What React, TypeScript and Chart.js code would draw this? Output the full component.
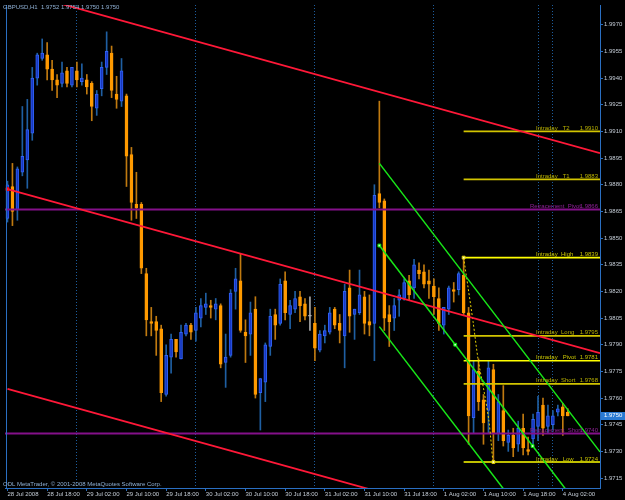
import React, { useEffect, useRef } from 'react';
import { Chart, registerables } from 'chart.js';

Chart.register(...registerables);

// ---------- DATA ----------
// hourly bars, GBPUSD H1, from 28 Jul 2008 10:00 to 4 Aug 2008 03:00
const opens = [
  1.9861, 1.9879, 1.9866, 1.9887, 1.9894, 1.9909, 1.9940, 1.9951, 1.9953, 1.9945,
  1.9939, 1.9937, 1.9944, 1.9936, 1.9944, 1.9938, 1.9939, 1.9937, 1.9923, 1.9934,
  1.9946, 1.9954, 1.9931, 1.9927, 1.9930, 1.9897, 1.9869, 1.9869, 1.9830, 1.9803,
  1.9803, 1.9799, 1.9762, 1.9783, 1.9793, 1.9782, 1.9796, 1.9801, 1.9798, 1.9805,
  1.9811, 1.9812, 1.9810, 1.9812, 1.9780, 1.9784, 1.9820, 1.9826, 1.9797, 1.9796,
  1.9810, 1.9763, 1.9769, 1.9789, 1.9807, 1.9802, 1.9826, 1.9807, 1.9810, 1.9817,
  1.9813, 1.9806, 1.9802, 1.9787, 1.9795, 1.9797, 1.9810, 1.9802, 1.9795, 1.9822,
  1.9807, 1.9808, 1.9817, 1.9803, 1.9802, 1.9875, 1.9871, 1.9807, 1.9805, 1.9815,
  1.9816, 1.9826, 1.9822, 1.9832, 1.9831, 1.9826, 1.9823, 1.9816, 1.9801, 1.9810,
  1.9821, 1.9821, 1.9829, 1.9808, 1.9749, 1.9775, 1.9759, 1.9753, 1.9776, 1.9740,
  1.9753, 1.9735, 1.9739, 1.9734, 1.9743, 1.9731, 1.9737, 1.9744, 1.9756, 1.9744,
  1.9745, 1.9752, 1.9755, 1.9752,
];
const highs = [
  1.9882, 1.9892, 1.9890, 1.9924, 1.9928, 1.9946, 1.9954, 1.9962, 1.9960, 1.9950,
  1.9942, 1.9949, 1.9946, 1.9946, 1.9949, 1.9948, 1.9942, 1.9938, 1.9933, 1.9949,
  1.9966, 1.9958, 1.9941, 1.9951, 1.9931, 1.9901, 1.9887, 1.9870, 1.9833, 1.9811,
  1.9806, 1.9801, 1.9790, 1.9796, 1.9793, 1.9801, 1.9802, 1.9802, 1.9811, 1.9816,
  1.9819, 1.9815, 1.9816, 1.9813, 1.9796, 1.9821, 1.9833, 1.9841, 1.9804, 1.9814,
  1.9817, 1.9771, 1.9791, 1.9810, 1.9810, 1.9827, 1.9831, 1.9815, 1.9820, 1.9820,
  1.9816, 1.9817, 1.9811, 1.9798, 1.9801, 1.9811, 1.9811, 1.9807, 1.9824, 1.9832,
  1.9810, 1.9832, 1.9820, 1.9818, 1.9880, 1.9927, 1.9872, 1.9812, 1.9816, 1.9821,
  1.9827, 1.9829, 1.9838, 1.9836, 1.9835, 1.9832, 1.9827, 1.9822, 1.9811, 1.9823,
  1.9825, 1.9831, 1.9839, 1.9811, 1.9781, 1.9782, 1.9762, 1.9781, 1.9779, 1.9762,
  1.9767, 1.9742, 1.9743, 1.9747, 1.9751, 1.9738, 1.9751, 1.9761, 1.9760, 1.9756,
  1.9753, 1.9756, 1.9757, 1.9754,
];
const lows = [
  1.9859, 1.9857, 1.9860, 1.9885, 1.9878, 1.9905, 1.9936, 1.9950, 1.9939, 1.9933,
  1.9929, 1.9935, 1.9935, 1.9935, 1.9935, 1.9936, 1.9931, 1.9916, 1.9919, 1.9930,
  1.9942, 1.9929, 1.9923, 1.9924, 1.9879, 1.9860, 1.9861, 1.9830, 1.9795, 1.9795,
  1.9784, 1.9758, 1.9761, 1.9774, 1.9783, 1.9782, 1.9795, 1.9793, 1.9792, 1.9800,
  1.9807, 1.9805, 1.9804, 1.9777, 1.9766, 1.9783, 1.9810, 1.9797, 1.9780, 1.9784,
  1.9760, 1.9742, 1.9758, 1.9784, 1.9793, 1.9801, 1.9804, 1.9799, 1.9808, 1.9803,
  1.9804, 1.9798, 1.9781, 1.9786, 1.9791, 1.9796, 1.9799, 1.9791, 1.9777, 1.9797,
  1.9793, 1.9807, 1.9796, 1.9795, 1.9781, 1.9867, 1.9798, 1.9789, 1.9798, 1.9806,
  1.9815, 1.9815, 1.9816, 1.9827, 1.9822, 1.9816, 1.9807, 1.9798, 1.9796, 1.9807,
  1.9814, 1.9818, 1.9807, 1.9734, 1.9740, 1.9753, 1.9734, 1.9740, 1.9724, 1.9736,
  1.9733, 1.9730, 1.9727, 1.9730, 1.9728, 1.9728, 1.9733, 1.9736, 1.9739, 1.9740,
  1.9742, 1.9750, 1.9739, 1.9750,
];
const closes = [
  1.9880, 1.9865, 1.9889, 1.9896, 1.9911, 1.9940, 1.9953, 1.9954, 1.9945, 1.9939,
  1.9936, 1.9943, 1.9937, 1.9946, 1.9939, 1.9940, 1.9935, 1.9924, 1.9931, 1.9946,
  1.9955, 1.9933, 1.9928, 1.9944, 1.9896, 1.9870, 1.9867, 1.9833, 1.9804, 1.9802,
  1.9798, 1.9763, 1.9784, 1.9793, 1.9786, 1.9797, 1.9801, 1.9797, 1.9808, 1.9812,
  1.9813, 1.9811, 1.9813, 1.9779, 1.9783, 1.9819, 1.9827, 1.9798, 1.9795, 1.9808,
  1.9762, 1.9771, 1.9790, 1.9806, 1.9801, 1.9824, 1.9808, 1.9812, 1.9816, 1.9812,
  1.9806, 1.9806, 1.9788, 1.9796, 1.9798, 1.9808, 1.9801, 1.9798, 1.9820, 1.9806,
  1.9810, 1.9818, 1.9802, 1.9801, 1.9874, 1.9870, 1.9805, 1.9803, 1.9812, 1.9818,
  1.9825, 1.9818, 1.9835, 1.9830, 1.9824, 1.9824, 1.9817, 1.9802, 1.9811, 1.9822,
  1.9820, 1.9830, 1.9808, 1.9750, 1.9776, 1.9758, 1.9746, 1.9777, 1.9740, 1.9758,
  1.9736, 1.9739, 1.9732, 1.9743, 1.9732, 1.9730, 1.9748, 1.9752, 1.9743, 1.9750,
  1.9750, 1.9754, 1.9750, 1.9750,
];

// x-axis tick labels, one every 8 bars
const xTickLabels = [
  '28 Jul 2008', '28 Jul 18:00', '29 Jul 02:00', '29 Jul 10:00', '29 Jul 18:00',
  '30 Jul 02:00', '30 Jul 10:00', '30 Jul 18:00', '31 Jul 02:00', '31 Jul 10:00',
  '31 Jul 18:00', '1 Aug 02:00', '1 Aug 10:00', '1 Aug 18:00', '4 Aug 02:00',
];
const xTickBars = [0, 8, 16, 24, 32, 40, 48, 56, 64, 72, 80, 88, 96, 104, 112];
// period separators (bar index)
const separatorBars = [14, 38, 62, 86, 107, 110];
// price scale ticks
const yTicks = [
  1.9715, 1.9730, 1.9745, 1.9760, 1.9775, 1.9790, 1.9805, 1.9820, 1.9835,
  1.9850, 1.9865, 1.9880, 1.9895, 1.9910, 1.9925, 1.9940, 1.9955, 1.9970,
];

// horizontal levels
const levelNames = [
  'Intraday   T2', 'Intraday   T1', 'Retracement  Pivot', 'Intraday  High',
  'Intraday  Long', 'Intraday   Pivot', 'Intraday  Short', 'Retracement  Short', 'Intraday   Low',
];
const levelValues = [1.9910, 1.9883, 1.9866, 1.9839, 1.9795, 1.9781, 1.9768, 1.9740, 1.9724];
const levelStartBars = [92, 92, -0.5, 92, 92, 92, 92, -0.5, 92];
const levelKinds = ['soft', 'soft', 'retr', 'bright', 'soft', 'bright', 'soft', 'retr', 'bright'];

// trend lines: [startBar, startPrice, endBar, endPrice]
const redLineStartBars = [-0.5, 0, 0];
const redLineStartPrices = [1.99905, 1.98775, 1.97651];
const redLineEndBars = [119.5, 119.5, 119.5];
const redLineEndPrices = [1.98978, 1.97852, 1.96728];

const greenLineStartBars = [75, 75, 75];
const greenLineStartPrices = [1.98920, 1.98458, 1.98002];
const greenLineEndBars = [119.5, 119.5, 119.5];
const greenLineEndPrices = [1.97297, 1.96835, 1.96379];

// dotted swing line from the intraday high to the intraday low
const swingBars = [92, 92.9, 93.9, 94.9, 96.1, 97.1, 97.9];
const swingPrices = [1.9839, 1.9822, 1.9803, 1.9782, 1.9764, 1.9747, 1.9724];

// small square markers
const markerBars = [0, 75, 90.3, 105.9, 92, 98];
const markerPrices = [1.98775, 1.98458, 1.97900, 1.97330, 1.9839, 1.9724];
const markerKinds = ['red', 'green', 'green', 'green', 'yellow', 'yellow'];

const titleText = 'GBPUSD,H1  1.9752 1.9754 1.9750 1.9750';
const copyrightText = 'ODL MetaTrader, \u00A9 2001-2008 MetaQuotes Software Corp.';

// ---------- STYLE ----------
const FONT = '"Liberation Sans", Arial, sans-serif';
const AXIS_BLUE = '#2a6fc2';
const TEXT_COL = '#c4ccd6';
const SEP_COL = '#1d5c9c';

const levelLineColor: Record<string, string> = { soft: '#d2c400', bright: '#ffff00', retr: '#84108a' };
const levelTextColor: Record<string, string> = { soft: '#b8b000', bright: '#c8c400', retr: '#8e2096' };
const markerFill: Record<string, string> = { red: '#ff2040', green: '#c8ffc8', yellow: '#ffffc0' };
const markerStroke: Record<string, string> = { red: '#ff0000', green: '#00e000', yellow: '#e0d000' };

export default function App() {
  const ref = useRef<HTMLCanvasElement>(null);

  useEffect(() => {
    document.body.style.margin = '0';
    document.body.style.background = '#000';
    const canvas = ref.current;
    if (!canvas) return;

    const idx = opens.map((_, i) => i);
    const kind = idx.map((i) => (closes[i] > opens[i] ? 'up' : closes[i] < opens[i] ? 'down' : 'flat'));
    const bodyFill = kind.map((k) => (k === 'up' ? '#1838c0' : k === 'down' ? '#ff9a00' : '#b0b0b0'));
    const bodyBorder = kind.map((k) => (k === 'up' ? '#3062f4' : k === 'down' ? '#ff9a00' : '#b0b0b0'));
    const wickCol = kind.map((k) => (k === 'up' ? '#1f5fa2' : k === 'down' ? '#c07a10' : '#a8a8a8'));

    const datasets: any[] = [];
    const base = { xAxisID: 'x', yAxisID: 'y' };

    // candle wicks and bodies
    datasets.push({
      ...base,
      type: 'bar',
      label: 'wicks',
      data: idx.map((i) => ({ x: i, y: [lows[i], highs[i]] })),
      backgroundColor: wickCol,
      borderWidth: 0,
      barThickness: 1,
      grouped: false,
      order: 30,
    });
    datasets.push({
      ...base,
      type: 'bar',
      label: 'bodies',
      data: idx.map((i) => ({ x: i, y: [opens[i], closes[i]] })),
      backgroundColor: bodyFill,
      borderColor: bodyBorder,
      borderWidth: 1,
      borderSkipped: false,
      barThickness: 3,
      minBarLength: 1,
      grouped: false,
      order: 20,
    });

    // horizontal levels
    levelValues.forEach((v, k) => {
      datasets.push({
        ...base,
        type: 'line',
        label: levelNames[k],
        data: [
          { x: levelStartBars[k], y: v },
          { x: 119.5, y: v },
        ],
        borderColor: levelLineColor[levelKinds[k]],
        borderWidth: levelKinds[k] === 'retr' ? 2 : 1.6,
        pointRadius: 0,
        tension: 0,
        order: 5,
      });
    });

    // red channel
    redLineStartBars.forEach((b, k) => {
      datasets.push({
        ...base,
        type: 'line',
        label: 'red' + k,
        data: [
          { x: b, y: redLineStartPrices[k] },
          { x: redLineEndBars[k], y: redLineEndPrices[k] },
        ],
        borderColor: '#ff1838',
        borderWidth: 1.8,
        pointRadius: 0,
        tension: 0,
        order: 3,
      });
    });

    // green channel
    greenLineStartBars.forEach((b, k) => {
      datasets.push({
        ...base,
        type: 'line',
        label: 'green' + k,
        data: [
          { x: b, y: greenLineStartPrices[k] },
          { x: greenLineEndBars[k], y: greenLineEndPrices[k] },
        ],
        borderColor: '#18e818',
        borderWidth: 1.5,
        pointRadius: 0,
        tension: 0,
        order: 2,
      });
    });

    // dotted swing line
    datasets.push({
      ...base,
      type: 'line',
      label: 'swing',
      data: swingBars.map((b, k) => ({ x: b, y: swingPrices[k] })),
      borderColor: '#e8d400',
      borderWidth: 1,
      borderDash: [2, 2],
      pointRadius: 0,
      tension: 0.3,
      order: 4,
    });

    // markers
    datasets.push({
      ...base,
      type: 'line',
      label: 'markers',
      data: markerBars.map((b, k) => ({ x: b, y: markerPrices[k] })),
      showLine: false,
      pointStyle: 'rect',
      pointRadius: 2,
      pointBackgroundColor: markerKinds.map((m) => markerFill[m]),
      pointBorderColor: markerKinds.map((m) => markerStroke[m]),
      pointBorderWidth: 1,
      order: 1,
    });

    const overlay = {
      id: 'mt4overlay',
      beforeDraw(chart: any) {
        const { ctx, width, height } = chart;
        ctx.save();
        ctx.fillStyle = '#000000';
        ctx.fillRect(0, 0, width, height);
        ctx.restore();
      },
      afterDraw(chart: any) {
        const { ctx, chartArea } = chart;
        const ys = chart.scales.y;
        ctx.save();
        // left frame line
        ctx.fillStyle = AXIS_BLUE;
        ctx.fillRect(chartArea.left + 1, chartArea.top, 1, chartArea.bottom - chartArea.top);

        ctx.font = `6px ${FONT}`;
        ctx.textBaseline = 'alphabetic';
        levelValues.forEach((v, k) => {
          const py = ys.getPixelForValue(v);
          ctx.fillStyle = levelTextColor[levelKinds[k]];
          ctx.textAlign = 'left';
          ctx.fillText(levelNames[k], levelKinds[k] === 'retr' ? 530 : 536, py - 1.5);
          ctx.textAlign = 'right';
          ctx.fillText(v.toFixed(4), 598, py - 1.5);
        });

        // current price box
        const last = closes[closes.length - 1];
        const cy = ys.getPixelForValue(last);
        ctx.fillStyle = '#2a7ad2';
        ctx.fillRect(chartArea.right + 1, Math.round(cy) - 4, 24, 8);
        ctx.fillStyle = '#ffffff';
        ctx.textAlign = 'left';
        ctx.textBaseline = 'middle';
        ctx.fillText(last.toFixed(4), chartArea.right + 4, cy);

        // title and copyright
        ctx.fillStyle = '#8fb0d4';
        ctx.fillText(titleText, 3, 7);
        ctx.fillText(copyrightText, 3, chartArea.bottom - 4);
        ctx.restore();
      },
    };

    const chart = new Chart(canvas, {
      type: 'bar',
      data: { datasets },
      options: {
        animation: false,
        responsive: false,
        devicePixelRatio: 1,
        events: [],
        layout: { padding: 0 },
        plugins: { legend: { display: false }, tooltip: { enabled: false }, title: { display: false } },
        font: { family: FONT, size: 6 },
        scales: {
          x: {
            type: 'linear',
            axis: 'x',
            position: 'bottom',
            min: -0.5,
            max: 119.5,
            offset: false,
            afterBuildTicks: (s: any) => {
              s.ticks = xTickBars.map((b) => ({ value: b }));
            },
            afterFit: (s: any) => {
              s.height = 12;
            },
            ticks: {
              autoSkip: false,
              maxRotation: 0,
              minRotation: 0,
              align: 'start',
              padding: 0,
              color: TEXT_COL,
              font: { family: FONT, size: 6 },
              callback: (_v: any, k: number) => xTickLabels[k],
            },
            grid: { drawOnChartArea: false, drawTicks: true, tickLength: 3, color: AXIS_BLUE, offset: false },
            border: { display: true, color: AXIS_BLUE, width: 1 },
          },
          xsep: {
            type: 'linear',
            axis: 'x',
            position: 'top',
            min: -0.5,
            max: 119.5,
            offset: false,
            afterBuildTicks: (s: any) => {
              s.ticks = separatorBars.map((b) => ({ value: b }));
            },
            afterFit: (s: any) => {
              s.height = 0;
            },
            ticks: { display: false },
            grid: { drawOnChartArea: true, drawTicks: false, color: SEP_COL, lineWidth: 1, offset: false },
            border: { display: false, dash: [1, 2] },
          },
          y: {
            type: 'linear',
            position: 'right',
            min: 1.97094,
            max: 1.99811,
            afterBuildTicks: (s: any) => {
              s.ticks = yTicks.map((v) => ({ value: v }));
            },
            afterFit: (s: any) => {
              s.width = 25;
            },
            ticks: {
              padding: 1,
              color: TEXT_COL,
              font: { family: FONT, size: 6 },
              callback: (v: any) => Number(v).toFixed(4),
            },
            grid: { drawOnChartArea: false, drawTicks: true, tickLength: 3, color: AXIS_BLUE },
            border: { display: true, color: AXIS_BLUE, width: 1 },
          },
        },
      } as any,
      plugins: [overlay],
    });

    return () => chart.destroy();
  }, []);

  return (
    <div style={{ width: 625, height: 500, background: '#000', position: 'relative' }}>
      <canvas ref={ref} width={625} height={500} style={{ display: 'block' }} />
    </div>
  );
}
